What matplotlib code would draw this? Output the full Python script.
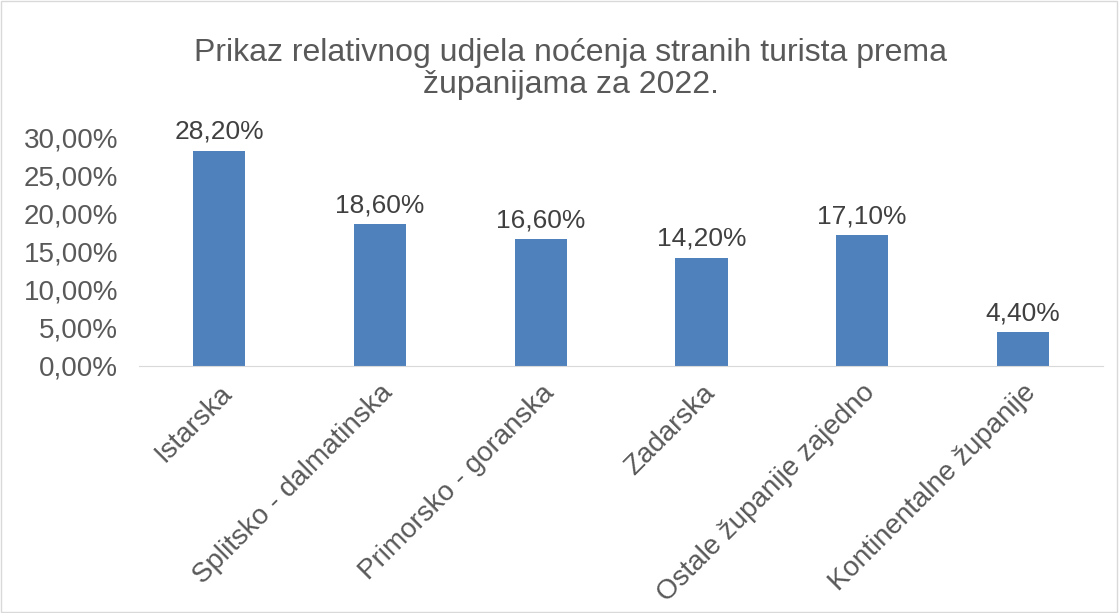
import matplotlib.pyplot as plt
from matplotlib.ticker import FuncFormatter

plt.rcParams['font.family'] = ['Liberation Sans', 'DejaVu Sans']

# data
zupanije = ['Istarska', 'Splitsko - dalmatinska', 'Primorsko - goranska',
            'Zadarska', 'Ostale županije zajedno', 'Kontinentalne županije']
udjeli = [28.2, 18.6, 16.6, 14.2, 17.1, 4.4]

text_col = '#595959'

fig = plt.figure(figsize=(11.19, 6.13), dpi=100)
ax = fig.add_axes([0.124, 0.403, 0.862, 0.3735])

x = range(len(zupanije))
bars = ax.bar(x, udjeli, width=0.325, color='#4F81BD')

for b, v in zip(bars, udjeli):
    ax.annotate(f'{v:.2f}%'.replace('.', ','), (b.get_x() + b.get_width() / 2, v),
                xytext=(0, 5), textcoords='offset points', ha='center', va='bottom',
                fontsize=19, color='#404040')

ax.set_xlim(-0.5, len(zupanije) - 0.5)
ax.set_ylim(0, 30)
ax.set_yticks(range(0, 31, 5))
ax.yaxis.set_major_formatter(FuncFormatter(lambda v, p: f'{v:.2f}%'.replace('.', ',')))
ax.set_xticks(list(x))
ax.set_xticklabels(zupanije, rotation=45, ha='right', va='top', rotation_mode='anchor')

ax.tick_params(axis='both', length=0, labelsize=20, labelcolor=text_col)
ax.tick_params(axis='x', pad=10)
ax.tick_params(axis='y', pad=15)
for s in ['top', 'right', 'left']:
    ax.spines[s].set_visible(False)
ax.spines['bottom'].set_color('#D9D9D9')

fig.text(0.51, 0.888, 'Prikaz relativnog udjela noćenja stranih turista prema\nžupanijama za 2022.',
         ha='center', va='center', fontsize=23, color=text_col, linespacing=1.1)

# light frame round the chart
fig.patches.append(plt.Rectangle((0.001, 0.001), 0.997, 0.997, transform=fig.transFigure,
                                 fill=False, edgecolor='#D9D9D9', linewidth=1))

fig.savefig('out.png', dpi=100)
